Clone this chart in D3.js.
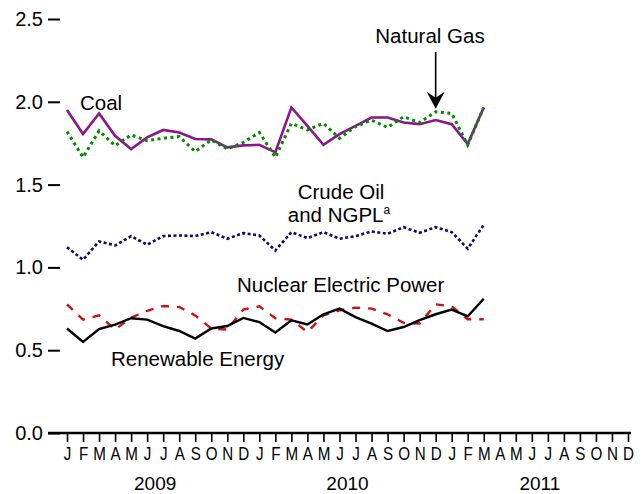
<!DOCTYPE html>
<html>
<head>
<meta charset="utf-8">
<script src="https://cdn.jsdelivr.net/npm/d3@7"></script>
<style>
  html, body { margin: 0; padding: 0; background: #fff; }
  svg { display: block; font-family: "Liberation Sans", Arial, Helvetica, sans-serif; }
</style>
</head>
<body>
<svg id="chart" width="644" height="494"></svg>
<script>
// ---- data (Jan 2009 – Mar 2011) ----
const monthLetters = ["J","F","M","A","M","J","J","A","S","O","N","D"];
const years = ["2009","2010","2011"];
const yTicks = [0.0, 0.5, 1.0, 1.5, 2.0, 2.5];

const coal = [1.95,1.805,1.93,1.795,1.715,1.785,1.83,1.815,1.775,1.773,1.725,1.737,
              1.74,1.695,1.966,1.855,1.74,1.805,1.855,1.905,1.905,1.875,1.865,1.89,
              1.865,1.745,1.966];
const naturalGas = [1.82,1.665,1.825,1.735,1.80,1.765,1.78,1.79,1.70,1.77,1.715,1.755,
                    1.815,1.665,1.87,1.83,1.87,1.78,1.85,1.89,1.845,1.91,1.875,1.94,
                    1.93,1.74,1.966];
const crudeOil = [1.122,1.046,1.157,1.133,1.189,1.137,1.189,1.193,1.189,1.213,1.173,1.207,
                  1.193,1.102,1.213,1.177,1.213,1.173,1.189,1.217,1.203,1.243,1.209,1.243,
                  1.213,1.113,1.257];
const nuclear = [0.777,0.685,0.71,0.625,0.697,0.737,0.767,0.761,0.71,0.631,0.625,0.745,
                 0.765,0.693,0.685,0.61,0.71,0.741,0.757,0.751,0.717,0.665,0.661,0.777,
                 0.765,0.687,0.687];
const renewable = [0.631,0.55,0.627,0.655,0.693,0.685,0.646,0.616,0.57,0.631,0.646,0.695,
                   0.67,0.607,0.681,0.655,0.717,0.751,0.70,0.661,0.616,0.64,0.681,0.717,
                   0.745,0.705,0.811];

const svg = d3.select("#chart");
const nMonths = monthLetters.length * years.length;

const x = d3.scaleLinear().domain([0, nMonths - 1]).range([67, 628]);
const y = d3.scaleLinear().domain([0, 2.5]).range([433, 19]);

// ---- y axis ----
const yAxis = svg.append("g")
  .attr("transform", "translate(60,0)")
  .call(d3.axisLeft(y).tickValues(yTicks).tickSize(12).tickPadding(5)
        .tickFormat(d3.format(".1f")));
yAxis.select(".domain").remove();
yAxis.selectAll(".tick line").attr("stroke", "#000").attr("stroke-width", 2);
yAxis.selectAll(".tick text").attr("font-size", 20).attr("fill", "#000")
  .attr("font-family", "'Liberation Sans', Arial, sans-serif");

// ---- x axis ----
const xAxis = svg.append("g")
  .attr("transform", `translate(0,${y(0)})`)
  .call(d3.axisBottom(x).tickValues(d3.range(nMonths)).tickSize(9).tickSizeOuter(0)
        .tickPadding(5).tickFormat(i => monthLetters[i % 12]));
xAxis.select(".domain").remove();
xAxis.selectAll(".tick line").attr("stroke", "#000").attr("stroke-width", 1.6);
xAxis.selectAll(".tick text").attr("font-size", 19).attr("fill", "#000")
  .attr("font-family", "'Liberation Sans', Arial, sans-serif")
  .attr("transform", "scale(0.8,1)");
xAxis.append("line")
  .attr("x1", 48 - 0).attr("x2", 631).attr("y1", 0).attr("y2", 0)
  .attr("stroke", "#000").attr("stroke-width", 2.5);

svg.append("g").selectAll("text").data(years).join("text")
  .attr("x", (d, i) => x(i * 12 + 5.5))
  .attr("y", 490)
  .attr("text-anchor", "middle")
  .attr("font-size", 19)
  .attr("fill", "#000")
  .text(d => d);

// ---- lines ----
const line = d3.line().x((d, i) => x(i)).y(d => y(d));
const series = [
  { data: nuclear,    color: "#cc1111", width: 2.4, dash: "8,8" },
  { data: renewable,  color: "#000000", width: 2.4, dash: null },
  { data: coal,       color: "#8b168b", width: 2.6, dash: null },
  { data: naturalGas, color: "#008a00", width: 3,   dash: "3,3.5" },
  { data: crudeOil,   color: "#0a0a60", width: 2.6, dash: "3,2.5" }
];
svg.append("g").selectAll("path").data(series).join("path")
  .attr("d", s => line(s.data))
  .attr("fill", "none")
  .attr("stroke", s => s.color)
  .attr("stroke-width", s => s.width)
  .attr("stroke-dasharray", s => s.dash)
  .attr("stroke-linejoin", "miter");

// ---- annotations ----
const labels = svg.append("g").attr("font-size", 20.5).attr("fill", "#000");
labels.append("text").attr("x", 80).attr("y", 110).text("Coal");
labels.append("text").attr("x", 430).attr("y", 43).attr("text-anchor", "middle").text("Natural Gas");
labels.append("text").attr("x", 341).attr("y", 199).attr("text-anchor", "middle").text("Crude Oil");
const ngpl = labels.append("text").attr("x", 339).attr("y", 222).attr("text-anchor", "middle");
ngpl.append("tspan").text("and NGPL");
ngpl.append("tspan").attr("font-size", 12).attr("dy", -8).text("a");
labels.append("text").attr("x", 237).attr("y", 292).text("Nuclear Electric Power");
labels.append("text").attr("x", 111).attr("y", 366).text("Renewable Energy");

// arrow pointing to natural gas in Dec 2010
const ai = 23;
const ax = x(ai), tipY = y(naturalGas[ai]) - 3;
svg.append("line").attr("x1", ax).attr("x2", ax).attr("y1", 52).attr("y2", tipY - 8)
  .attr("stroke", "#000").attr("stroke-width", 1.6);
svg.append("path")
  .attr("d", `M${ax},${tipY} L${ax - 9},${tipY - 17} L${ax},${tipY - 11} L${ax + 9},${tipY - 17} Z`)
  .attr("fill", "#000");
</script>
</body>
</html>
